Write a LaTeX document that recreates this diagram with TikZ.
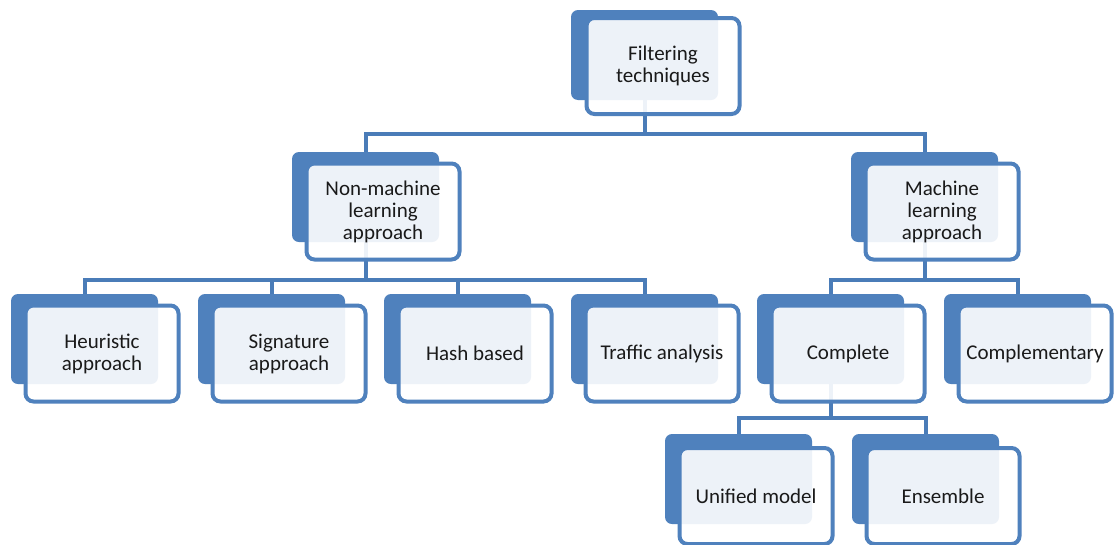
\documentclass[tikz,border=0pt]{standalone}
\usepackage{fontspec}
\setmainfont{Carlito}
\usetikzlibrary{calc}
\definecolor{accent}{HTML}{4F81BD}
\definecolor{linkc}{HTML}{4A7CB8}
\definecolor{txt}{HTML}{1A1A1A}
\tikzset{
  backbox/.style={rectangle, rounded corners=7pt, fill=accent, minimum width=147pt, minimum height=90pt, inner sep=0pt},
  frontbox/.style={rectangle, rounded corners=8pt, draw=accent, line width=4pt, fill=white, fill opacity=0.9, text opacity=1, minimum width=153pt, minimum height=96pt, inner sep=0pt, align=center, text=txt, font=\fontsize{21}{22}\selectfont},
  link/.style={draw=linkc, line width=4pt}
}
\begin{document}
\begin{tikzpicture}[x=1pt,y=-1pt]
\clip (0,0) rectangle (1115,544);
\fill[white] (0,0) rectangle (1115,544);
% back boxes (top-left + half size)
\foreach \n/\x/\y in {top/571/10, nonml/292/152, ml/851/152, heur/11/294, sig/198/294, hash/384/294, traf/571/294, comp/757/294, compl/944/294, unif/665/434, ens/852/434}{
  \node[backbox] (\n B) at (\x+73.5,\y+45) {};
}
% bus coordinates
\coordinate (bus1) at (0,134);
\coordinate (bus2) at (0,280);
\coordinate (bus3) at (0,418);
% connectors
\draw[link] (topB.center) -- (topB.center |- bus1) -| (nonmlB.north);
\draw[link] (topB.center |- bus1) -| (mlB.north);
\draw[link] (nonmlB.center) -- (nonmlB.center |- bus2) -| (heurB.north);
\draw[link] (nonmlB.center |- bus2) -| (sigB.north);
\draw[link] (nonmlB.center |- bus2) -| (hashB.north);
\draw[link] (nonmlB.center |- bus2) -| (trafB.north);
\draw[link] (mlB.center) -- (mlB.center |- bus2) -| (compB.north);
\draw[link] (mlB.center |- bus2) -| (complB.north);
\draw[link] (compB.center) -- (compB.center |- bus3) -| (unifB.north);
\draw[link] (compB.center |- bus3) -| (ensB.north);
% front boxes
\node[frontbox] (topF) at ($(topB.center)+(92-73.5,56-45)$) {Filtering\\techniques};
\node[frontbox] (nonmlF) at ($(nonmlB.center)+(91-73.5,59.5-45)$) {Non-machine\\learning\\approach};
\node[frontbox] (mlF) at ($(mlB.center)+(91-73.5,59.5-45)$) {Machine\\learning\\approach};
\node[frontbox] (heurF) at ($(heurB.center)+(91-73.5,59.5-45)$) {Heuristic\\approach};
\node[frontbox] (sigF) at ($(sigB.center)+(91-73.5,59.5-45)$) {Signature\\approach};
\node[frontbox] (hashF) at ($(hashB.center)+(91-73.5,59.5-45)$) {Hash based};
\node[frontbox] (trafF) at ($(trafB.center)+(91-73.5,59.5-45)$) {Traffic analysis};
\node[frontbox] (compF) at ($(compB.center)+(91-73.5,59.5-45)$) {Complete};
\node[frontbox] (complF) at ($(complB.center)+(91-73.5,59.5-45)$) {Complementary};
\node[frontbox] (unifF) at ($(unifB.center)+(91-73.5,62-45)$) {Unified model};
\node[frontbox] (ensF) at ($(ensB.center)+(91-73.5,62-45)$) {Ensemble};
\end{tikzpicture}
\end{document}
